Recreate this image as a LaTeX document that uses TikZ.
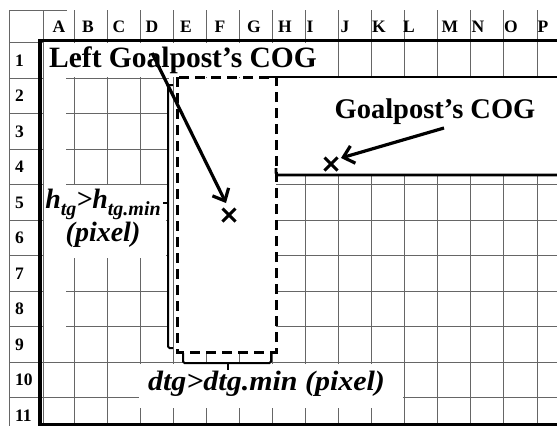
\documentclass[tikz,border=0pt]{standalone}
\usepackage{fontspec}
\setmainfont{Liberation Serif}
\usetikzlibrary{arrows.meta,shapes.misc}
\newcommand{\lowsub}[1]{\raisebox{-7pt}{\fontsize{20}{20}\selectfont #1}}
\newcommand{\sheetgrid}{%
  \draw[gridline] (9,10)--(67,10);%
  \draw[gridline] (9,10)--(9,426);%
  \draw[gridline] (43,10)--(43,426);%
  \draw[gridline] (9,42)--(43,42);%
  \foreach \c in {0,...,14}{\draw[gridline] ({74+33.07*\c},10)--({74+33.07*\c},426);}%
  \foreach \r in {0,...,9}{\draw[gridline] (9,{78+35.5*\r})--(557,{78+35.5*\r});}%
  \foreach \x/\l in {59/A,88/B,119/C,152/D,186/E,220/F,254/G,285/H,310/I,345/J,379/K,409/L,450/M,478/N,511/O,543/P}
    \node[hdr,anchor=base] (col\l) at (\x,32.5) {\l};%
  \foreach \r in {1,...,11}
    \node[hdr,anchor=base west] (row\r) at (15,{42+35.5*(\r-1)+24}) {\r};%
}

\begin{document}
\begin{tikzpicture}[x=1pt,y=-1pt,
  gridline/.style={black!60,line width=0.9pt},
  hdr/.style={font=\fontsize{17.5}{17.5}\selectfont\bfseries,inner sep=0pt},
  postbox/.style={dash pattern=on 10pt off 6pt,line width=3pt},
  brace/.style={line width=2pt,rounded corners=1.5pt},
  cogmark/.style={cross out,draw,line width=3pt,minimum size=10pt,inner sep=0pt},
  cogarrow/.style={line width=3.2pt,-{Straight Barb[length=10pt,width=18pt]}},
  bigtxt/.style={font=\fontsize{29.5}{29.5}\selectfont\bfseries,inner sep=0pt},
  ittxt/.style={font=\fontsize{28}{33}\selectfont\bfseries\itshape,inner sep=0pt,align=center}]
  \useasboundingbox (0,0) rectangle (557,426);
  \sheetgrid
  % blanked parts of the sheet
  \fill[white] (44,43) rectangle (322,77.3);
  \fill[white] (44,43) rectangle (66,361);
  \fill[white] (44,185) rectangle (166,258);
  \fill[white] (169,77.5) rectangle (276,352);
  \fill[white] (276,77.5) rectangle (557,175);
  \fill[white] (139,363.5) rectangle (403,408);
  \draw[gridline] (173,77.5)--(173,352);
  \draw[line width=3.5pt] (557,40.5)--(40,40.5)--(40,424.5)--(557,424.5);
  % goalpost box and sizes
  \draw[postbox] (177,77) rectangle (276,352);
  \draw[line width=2.2pt] (268,77)--(557,77);
  \draw[line width=2.6pt,rounded corners=2pt] (276,168)--(276,175)--(557,175);
  \draw[brace] (173,85)--(168,85)--(168,348)--(173,348);
  \draw[brace] (168,203)--(163,203);
  \draw[brace] (183,353)--(183,363)--(271,363)--(271,353);
  \draw[brace] (228,363)--(228,370);
  \node[bigtxt,anchor=base] (lgtext) at (183,67) {Left Goalpost's COG};
  \node[bigtxt,font=\fontsize{28.5}{28.5}\selectfont\bfseries,anchor=base] (gptext) at (435,118) {Goalpost's COG};
  \node[ittxt,anchor=north] (hlabel) at (103,189) {h\lowsub{tg}>h\lowsub{tg.min}\\(pixel)};
  \node[ittxt,anchor=base] (dlabel) at (266.5,390) {\scalebox{1.07}[1]{dtg>dtg.min (pixel)}};
  \node[cogmark] (lcog) at (229,215) {};
  \node[cogmark] (gcog) at (331,164) {};
  \coordinate (lgtail) at (152,53);
  \coordinate (lgtip) at (226,203);
  \coordinate (gptail) at (444,128);
  \coordinate (gptip) at (341,158);
  \draw[cogarrow] (lgtail) -- (lgtip);
  \draw[cogarrow] (gptail) -- (gptip);
\end{tikzpicture}
\end{document}
